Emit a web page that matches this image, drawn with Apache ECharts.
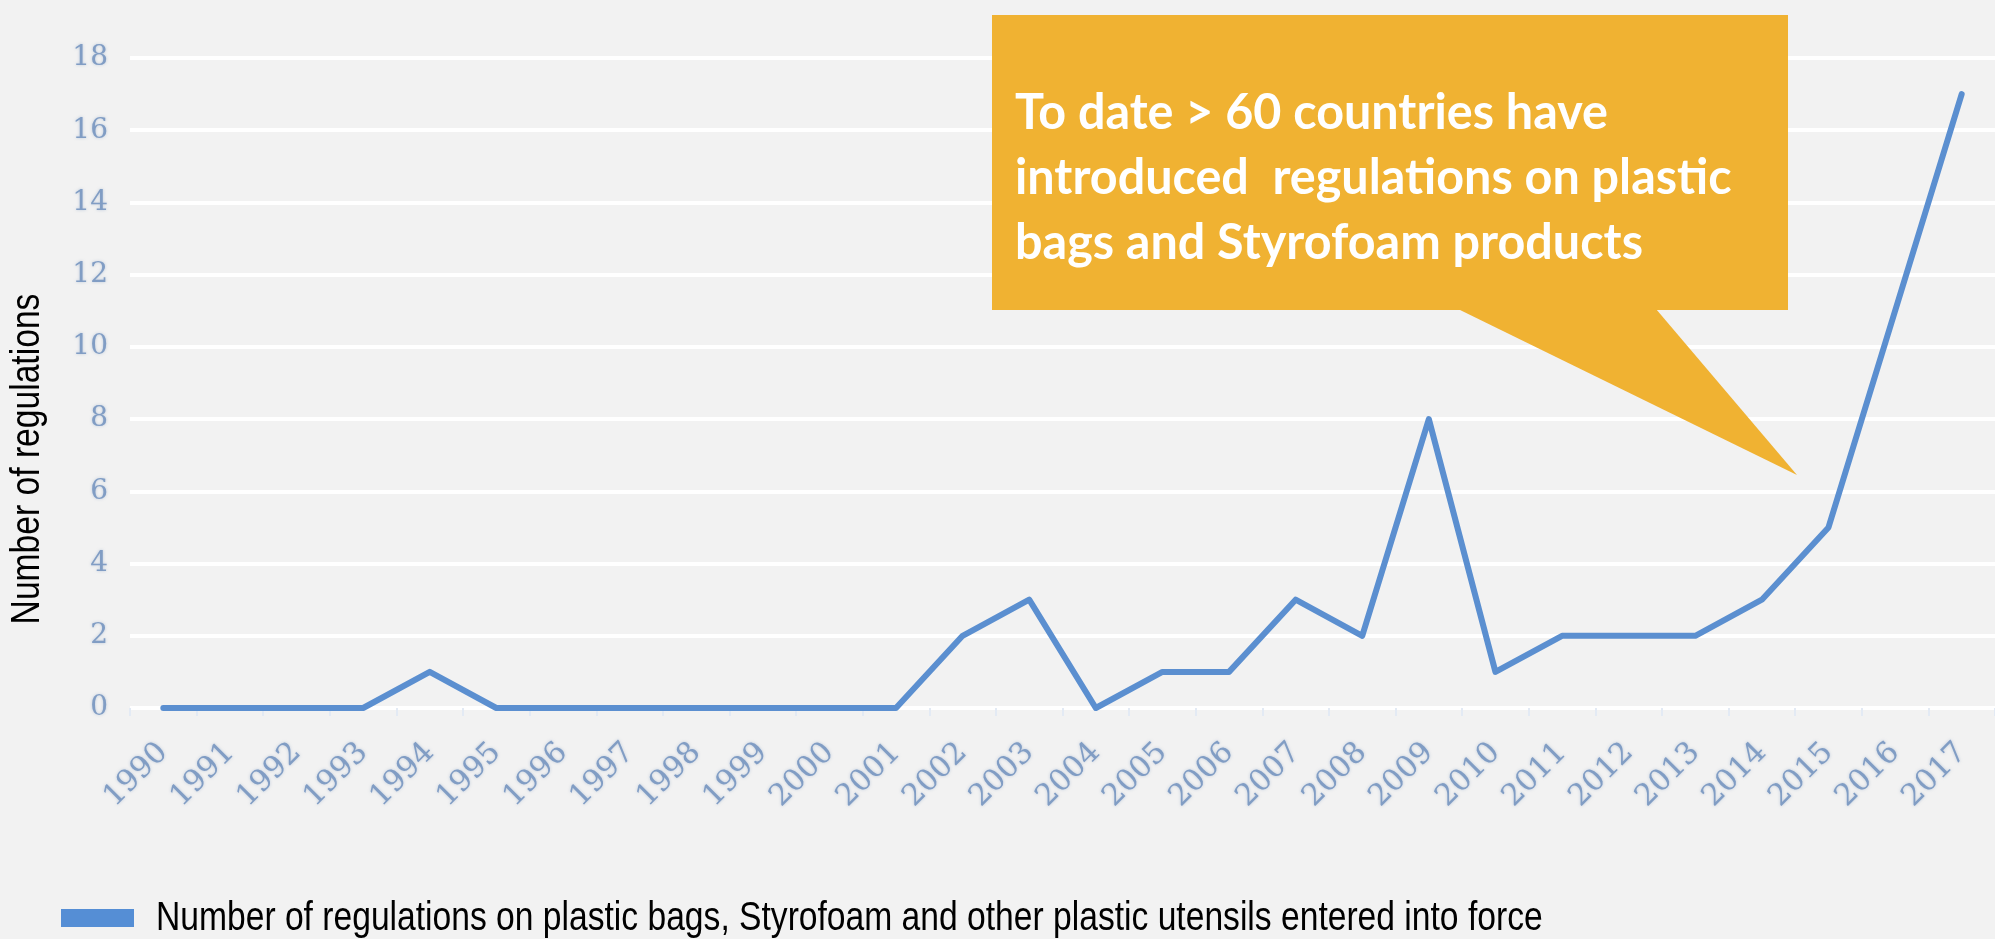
<!DOCTYPE html>
<html>
<head>
<meta charset="utf-8">
<script src="https://cdn.jsdelivr.net/npm/echarts@6/dist/echarts.min.js"></script>
<style>
  html, body { margin: 0; padding: 0; background: #f2f2f2; }
  #chart { width: 1995px; height: 939px; }
</style>
</head>
<body>
<div id="chart"></div>
<script>
// Regulations entering into force per year
const years = ['1990','1991','1992','1993','1994','1995','1996','1997','1998','1999','2000','2001','2002','2003','2004','2005','2006','2007','2008','2009','2010','2011','2012','2013','2014','2015','2016','2017'];
const regulations = [0,0,0,0,1,0,0,0,0,0,0,0,2,3,0,1,1,3,2,8,1,2,2,2,3,5,11,17];
const seriesName = 'Number of regulations on plastic bags, Styrofoam and other plastic utensils entered into force';
const axisTitle = 'Number of regulations';
const calloutLines = ['To date > 60 countries have', 'introduced  regulations on plastic', 'bags and Styrofoam products'];

const chart = echarts.init(document.getElementById('chart'));

const labelBlue = '#819dc4';
const lineBlue = '#5b8fd0';
const legendBlue = '#558ed5';
const calloutFill = '#f0b232';
const narrowFont = '41px "Liberation Sans", Arial, sans-serif';

chart.setOption({
  backgroundColor: '#f2f2f2',
  animation: false,
  grid: { left: 130, right: -10, top: 58, bottom: 231 },
  xAxis: {
    type: 'category',
    data: years,
    boundaryGap: true,
    axisLine: { show: false },
    axisTick: { show: true, length: 8, lineStyle: { color: '#e3eaf4', width: 2 } },
    axisLabel: {
      rotate: 45, margin: 40, fontSize: 30, interval: 0,
      color: labelBlue, fontFamily: '"DejaVu Serif", serif',
      textShadowColor: 'rgba(129,157,196,0.5)', textShadowBlur: 3
    }
  },
  yAxis: {
    type: 'value',
    min: 0, max: 18, interval: 2,
    axisLine: { show: false },
    axisTick: { show: false },
    axisLabel: {
      margin: 22, fontSize: 28,
      color: labelBlue, fontFamily: '"DejaVu Serif", serif',
      textShadowColor: 'rgba(129,157,196,0.5)', textShadowBlur: 3
    },
    splitLine: { show: true, lineStyle: { color: '#ffffff', width: 4 } }
  },
  series: [{
    name: seriesName,
    type: 'line',
    data: regulations,
    showSymbol: false,
    symbol: 'none',
    color: lineBlue,
    lineStyle: { color: lineBlue, width: 6, join: 'round', cap: 'round' },
    z: 3
  }],
  graphic: [
    // vertical axis title, set in a condensed face
    {
      type: 'text', z: 5,
      x: 28, y: 459,
      rotation: Math.PI / 2,
      scaleX: 0.82,
      style: { text: axisTitle, font: narrowFont, fill: '#000', align: 'center', verticalAlign: 'middle' }
    },
    // legend swatch and caption
    {
      type: 'rect', z: 5,
      shape: { x: 61, y: 909, width: 73, height: 18 },
      style: { fill: legendBlue }
    },
    {
      type: 'text', z: 5,
      x: 156, y: 919,
      scaleX: 0.82,
      style: { text: seriesName, font: narrowFont, fill: '#000', align: 'left', verticalAlign: 'middle' }
    },
    // speech-bubble callout
    {
      type: 'rect', z: 10,
      shape: { x: 992, y: 15, width: 796, height: 295 },
      style: { fill: calloutFill }
    },
    {
      type: 'polygon', z: 10,
      shape: { points: [[1458, 309], [1656, 309], [1797, 475]] },
      style: { fill: calloutFill }
    },
    {
      type: 'text', z: 11,
      x: 1015, y: 80,
      scaleX: 0.97,
      style: {
        text: calloutLines.join('\n'),
        font: 'bold 50px Lato, "Open Sans", sans-serif',
        fill: '#ffffff',
        lineHeight: 65,
        verticalAlign: 'top',
        align: 'left'
      }
    }
  ]
});
</script>
</body>
</html>
